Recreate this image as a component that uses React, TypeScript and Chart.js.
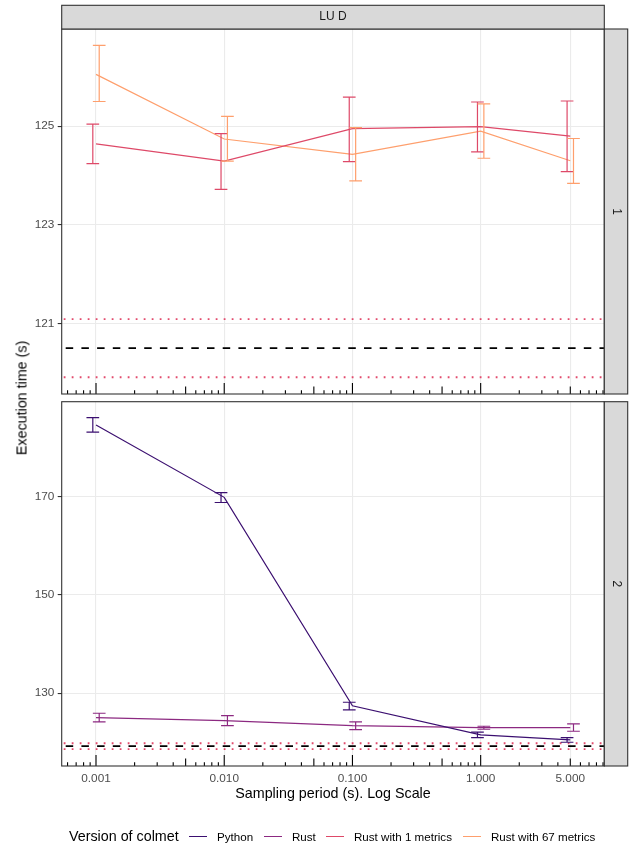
import React, { useEffect, useRef } from 'react';
import { Chart, registerables } from 'chart.js';

Chart.register(...registerables);

const FONT = '"Liberation Sans", Arial, Helvetica, sans-serif';

// ---------- data ----------
const periods = [0.001, 0.01, 0.1, 1, 5];
const periodLabels = ['0.001', '0.010', '0.100', '1.000', '5.000'];
const facetTitle = 'LU D';
const panelLabels = ['1', '2'];

const seriesNames = ['Python', 'Rust', 'Rust with 1 metrics', 'Rust with 67 metrics'];
const seriesColors = ['#3B0F70', '#8C2981', '#DE4968', '#FE9F6D'];

// panel 1
const rust1Mean = [124.64, 124.29, 124.95, 124.99, 124.8];
const rust1Low = [124.24, 123.72, 124.28, 124.48, 124.08];
const rust1High = [125.04, 124.85, 125.59, 125.49, 125.51];
const rust67Mean = [126.05, 124.74, 124.43, 124.9, 124.3];
const rust67Low = [125.5, 124.29, 123.89, 124.35, 123.84];
const rust67High = [126.64, 125.2, 124.97, 125.45, 124.75];

// panel 2
const pythonMean = [184.58, 169.85, 127.45, 121.52, 120.5];
const pythonLow = [183.1, 168.8, 126.6, 120.97, 120.03];
const pythonHigh = [186.07, 170.8, 128.17, 122.07, 120.97];
const rustMean = [125.04, 124.43, 123.41, 123.0, 123.0];
const rustLow = [124.16, 123.41, 122.6, 122.68, 122.27];
const rustHigh = [125.93, 125.44, 124.16, 123.29, 123.76];

const panel1YTicks = [121, 123, 125];
const panel2YTicks = [130, 150, 170];
// reference lines: [mean, low, high]
const panel1Ref = [120.5, 119.91, 121.09];
const panel2Ref = [119.25, 118.65, 119.83];

const xMin = 0.00054;
const xMax = 9.21;

// ---------- helpers ----------
type Series = { name: string; mean: number[]; low: number[]; high: number[] };
type PanelSpec = {
  series: Series[];
  yMin: number;
  yMax: number;
  yTicks: number[];
  refLines: number[];
  stripLabel: string;
  topStrip: boolean;
  showX: boolean;
  padding: { top: number; right: number; bottom: number; left: number };
  xAxisHeight: number;
};

const colorOf = (name: string) => seriesColors[seriesNames.indexOf(name)];

function makePlugin(spec: PanelSpec) {
  return {
    id: 'panelDecor',
    beforeDatasetsDraw(chart: any) {
      const { ctx, chartArea: a, scales } = chart;
      const y = scales.y;
      ctx.save();
      ctx.beginPath();
      ctx.rect(a.left, a.top, a.right - a.left, a.bottom - a.top);
      ctx.clip();
      const [m, lo, hi] = spec.refLines;
      // dotted
      ctx.strokeStyle = '#E24A6C';
      ctx.lineWidth = 1.8;
      ctx.lineCap = 'butt';
      ctx.setLineDash([1.8, 6.2]);
      [lo, hi].forEach((v) => {
        const py = y.getPixelForValue(v);
        ctx.beginPath();
        ctx.moveTo(a.left + 2, py);
        ctx.lineTo(a.right, py);
        ctx.stroke();
      });
      // dashed
      ctx.strokeStyle = '#000000';
      ctx.lineWidth = 1.9;
      ctx.setLineDash([7.5, 8.2]);
      const pm = y.getPixelForValue(m);
      ctx.beginPath();
      ctx.moveTo(a.left + 4, pm);
      ctx.lineTo(a.right, pm);
      ctx.stroke();
      ctx.restore();
    },
    afterDatasetsDraw(chart: any) {
      const { ctx, chartArea: a, scales } = chart;
      const x = scales.x;
      const y = scales.y;
      ctx.save();
      // error bars (dodged)
      spec.series.forEach((s, si) => {
        const dodge = (si - (spec.series.length - 1) / 2) * 6.4;
        ctx.strokeStyle = colorOf(s.name);
        ctx.lineWidth = 1.2;
        periods.forEach((p, i) => {
          const px = x.getPixelForValue(p) + dodge;
          const t = y.getPixelForValue(s.high[i]);
          const b = y.getPixelForValue(s.low[i]);
          ctx.beginPath();
          ctx.moveTo(px, t);
          ctx.lineTo(px, b);
          ctx.moveTo(px - 6.35, t);
          ctx.lineTo(px + 6.35, t);
          ctx.moveTo(px - 6.35, b);
          ctx.lineTo(px + 6.35, b);
          ctx.stroke();
        });
      });
      // log ticks (inside panel, bottom)
      ctx.strokeStyle = '#000000';
      ctx.lineWidth = 1.1;
      for (let k = -4; k <= 1; k++) {
        for (let mm = 1; mm <= 9; mm++) {
          const v = mm * Math.pow(10, k);
          if (v < x.min || v > x.max) continue;
          const len = mm === 1 ? 11 : mm === 5 ? 7.4 : 3.7;
          const px = x.getPixelForValue(v);
          ctx.beginPath();
          ctx.moveTo(px, a.bottom);
          ctx.lineTo(px, a.bottom - len);
          ctx.stroke();
        }
      }
      ctx.restore();
    },
    afterDraw(chart: any) {
      const { ctx, chartArea: a } = chart;
      ctx.save();
      ctx.lineWidth = 1.1;
      ctx.strokeStyle = '#333333';
      // panel border
      ctx.strokeRect(a.left, a.top, a.right - a.left, a.bottom - a.top);
      // right strip
      const sw = 23.4;
      ctx.fillStyle = '#D9D9D9';
      ctx.fillRect(a.right, a.top, sw, a.bottom - a.top);
      ctx.strokeRect(a.right, a.top, sw, a.bottom - a.top);
      ctx.fillStyle = '#1A1A1A';
      ctx.font = `12px ${FONT}`;
      ctx.textAlign = 'center';
      ctx.textBaseline = 'middle';
      ctx.save();
      ctx.translate(a.right + sw / 2, (a.top + a.bottom) / 2);
      ctx.rotate(Math.PI / 2);
      ctx.fillText(spec.stripLabel, 0, 0);
      ctx.restore();
      // top strip
      if (spec.topStrip) {
        const sh = 23.7;
        ctx.fillStyle = '#D9D9D9';
        ctx.fillRect(a.left, a.top - sh, a.right - a.left, sh);
        ctx.strokeRect(a.left, a.top - sh, a.right - a.left, sh);
        ctx.fillStyle = '#1A1A1A';
        ctx.fillText(facetTitle, (a.left + a.right) / 2, a.top - sh / 2);
      }
      ctx.restore();
    },
  };
}

function buildConfig(spec: PanelSpec): any {
  return {
    type: 'line',
    data: {
      datasets: spec.series.map((s) => ({
        label: s.name,
        data: periods.map((p, i) => ({ x: p, y: s.mean[i] })),
        borderColor: colorOf(s.name),
        backgroundColor: colorOf(s.name),
        borderWidth: 1.2,
        pointRadius: 0,
        tension: 0,
        fill: false,
      })),
    },
    options: {
      responsive: false,
      maintainAspectRatio: false,
      animation: false,
      events: [],
      layout: { padding: spec.padding },
      plugins: { legend: { display: false }, tooltip: { enabled: false } },
      scales: {
        x: {
          type: 'logarithmic',
          min: xMin,
          max: xMax,
          afterBuildTicks: (s: any) => {
            s.ticks = periods.map((v) => ({ value: v }));
          },
          afterFit: (s: any) => {
            s.height = spec.xAxisHeight;
            s.paddingLeft = 0;
            s.paddingRight = 0;
          },
          grid: { color: '#EBEBEB', lineWidth: 1.1, drawTicks: false },
          border: { display: false },
          ticks: {
            display: spec.showX,
            autoSkip: false,
            maxRotation: 0,
            minRotation: 0,
            padding: 5.2,
            color: '#4D4D4D',
            font: { family: FONT, size: 11.8 },
            callback: (_v: any, i: number) => periodLabels[i],
          },
          title: {
            display: spec.showX,
            text: 'Sampling period (s). Log Scale',
            color: '#000000',
            font: { family: FONT, size: 14.3 },
            padding: { top: 0, bottom: 0 },
          },
        },
        y: {
          type: 'linear',
          min: spec.yMin,
          max: spec.yMax,
          afterBuildTicks: (s: any) => {
            s.ticks = spec.yTicks.map((v) => ({ value: v }));
          },
          afterFit: (s: any) => {
            s.width = 61.7;
            s.paddingTop = 0;
            s.paddingBottom = 0;
          },
          grid: {
            color: '#EBEBEB',
            lineWidth: 1.1,
            drawTicks: true,
            tickLength: 4,
            tickColor: '#333333',
            tickWidth: 1.1,
          },
          border: { display: false },
          ticks: {
            color: '#4D4D4D',
            font: { family: FONT, size: 11.8 },
            padding: 3.3,
          },
        },
      },
    },
    plugins: [makePlugin(spec)],
  };
}

const panel1: PanelSpec = {
  series: [
    { name: 'Rust with 1 metrics', mean: rust1Mean, low: rust1Low, high: rust1High },
    { name: 'Rust with 67 metrics', mean: rust67Mean, low: rust67Low, high: rust67High },
  ],
  yMin: 119.57,
  yMax: 126.97,
  yTicks: panel1YTicks,
  refLines: panel1Ref,
  stripLabel: panelLabels[0],
  topStrip: true,
  showX: false,
  padding: { top: 29, right: 33.7, bottom: 4, left: 0 },
  xAxisHeight: 0,
};

const panel2: PanelSpec = {
  series: [
    { name: 'Python', mean: pythonMean, low: pythonLow, high: pythonHigh },
    { name: 'Rust', mean: rustMean, low: rustLow, high: rustHigh },
  ],
  yMin: 115.2,
  yMax: 189.3,
  yTicks: panel2YTicks,
  refLines: panel2Ref,
  stripLabel: panelLabels[1],
  topStrip: false,
  showX: true,
  padding: { top: 3.7, right: 33.7, bottom: 45.3, left: 0 },
  xAxisHeight: 36.7,
};

function PanelChart({ spec, top, height }: { spec: PanelSpec; top: number; height: number }) {
  const ref = useRef<HTMLCanvasElement>(null);
  useEffect(() => {
    const chart = new Chart(ref.current as HTMLCanvasElement, buildConfig(spec));
    return () => chart.destroy();
  }, [spec]);
  return (
    <canvas
      ref={ref}
      width={638}
      height={height}
      style={{ position: 'absolute', left: 0, top, width: 638, height }}
    />
  );
}

const legendLefts = [189, 264, 326, 463];

export default function App() {
  return (
    <div
      style={{
        position: 'absolute',
        left: 0,
        top: 0,
        width: 638,
        height: 848,
        background: '#FFFFFF',
        overflow: 'hidden',
        fontFamily: FONT,
      }}
    >
      <PanelChart spec={panel1} top={0} height={398} />
      <PanelChart spec={panel2} top={398} height={450} />
      <div
        style={{
          position: 'absolute',
          left: 22,
          top: 397.5,
          transform: 'translate(-50%, -50%) rotate(-90deg)',
          whiteSpace: 'nowrap',
          fontSize: 14.3,
          fontWeight: 400,
          color: '#000000',
          lineHeight: '17px',
        }}
      >
        Execution time (s)
      </div>
      <div
        style={{
          position: 'absolute',
          left: 69,
          top: 836.7 - 8.5,
          fontSize: 14.3,
          lineHeight: '17px',
          color: '#000000',
          whiteSpace: 'nowrap',
        }}
      >
        Version of colmet
      </div>
      {seriesNames.map((n, i) => (
        <React.Fragment key={n}>
          <div
            style={{
              position: 'absolute',
              left: legendLefts[i],
              top: 836.2,
              width: 18,
              height: 1.2,
              background: seriesColors[i],
            }}
          />
          <div
            style={{
              position: 'absolute',
              left: legendLefts[i] + 28,
              top: 836.7 - 7,
              fontSize: 11.6,
              lineHeight: '14px',
              color: '#000000',
              whiteSpace: 'nowrap',
            }}
          >
            {n}
          </div>
        </React.Fragment>
      ))}
    </div>
  );
}
